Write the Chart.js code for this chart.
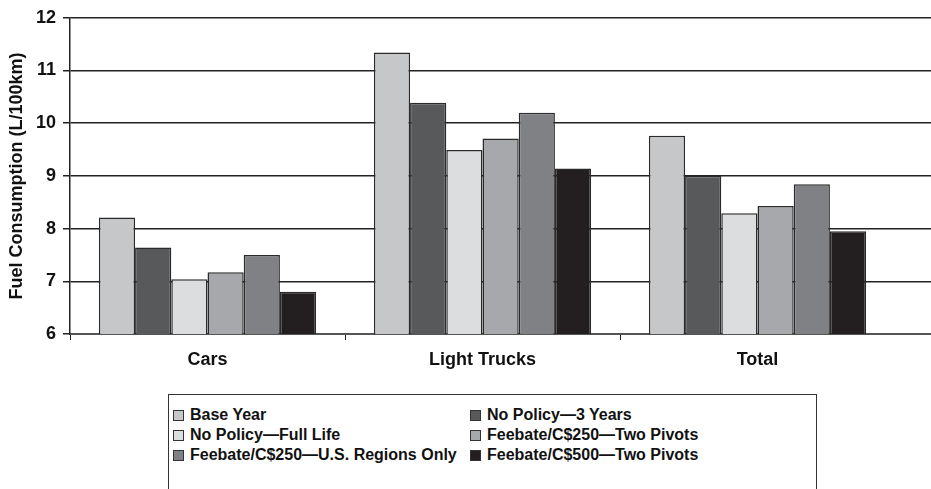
<!DOCTYPE html>
<html>
<head>
<meta charset="utf-8">
<script src="https://cdn.jsdelivr.net/npm/chart.js@4/dist/chart.umd.min.js"></script>
<style>
  html, body { margin: 0; padding: 0; background: #fff; }
  body { width: 931px; height: 489px; overflow: hidden; position: relative; font-family: "Liberation Sans", Arial, sans-serif; }
  #wrap { position: absolute; left: 0; top: 0; width: 1175px; height: 380px; }
  #legend {
    position: absolute; left: 168px; top: 394px; width: 649px; height: 120px;
    border: 1.5px solid #333; box-sizing: border-box;
    padding: 10px 0 0 4px;
    display: grid; grid-template-columns: 297px 1fr; grid-auto-rows: 20px;
    font-weight: bold; font-size: 16px; color: #111;
  }
  #legend .item { display: flex; align-items: center; white-space: nowrap; }
  #legend .sw { width: 9px; height: 9px; border: 1px solid #333; margin-right: 6px; }
</style>
</head>
<body>
<div id="wrap"><canvas id="chart"></canvas></div>
<div id="legend"></div>
<script>
// valores (L/100km)
const categories = ['Cars', 'Light Trucks', 'Total'];
const seriesNames = [
  'Base Year',
  'No Policy\u20143 Years',
  'No Policy\u2014Full Life',
  'Feebate/C$250\u2014Two Pivots',
  'Feebate/C$250\u2014U.S. Regions Only',
  'Feebate/C$500\u2014Two Pivots'
];
const baseYear = [8.21, 11.34, 9.76];
const noPolicy3 = [7.64, 10.39, 9.00];
const noPolicyFull = [7.04, 9.49, 8.29];
const feebate250Two = [7.17, 9.71, 8.43];
const feebate250US = [7.50, 10.20, 8.84];
const feebate500Two = [6.80, 9.14, 7.95];
const yTicks = [6, 7, 8, 9, 10, 11, 12];

const seriesValues = [baseYear, noPolicy3, noPolicyFull, feebate250Two, feebate250US, feebate500Two];
const colors = ['#c6c7c9', '#58595b', '#dcdddf', '#a7a8ab', '#808184', '#231f20'];

document.addEventListener('DOMContentLoaded', function () {
  const boldFont = { family: '"Liberation Sans", Arial, sans-serif', weight: 'bold', size: 18 };

  const datasets = seriesNames.map((name, i) => ({
    label: name,
    data: seriesValues[i],
    backgroundColor: colors[i],
    borderColor: '#2a2a2a',
    borderWidth: 1.5
  }));

  const chart = new Chart(document.getElementById('chart'), {
    type: 'bar',
    data: {
      // hueco vacío al final: el área del gráfico sigue más allá del borde derecho
      labels: [...categories, ''],
      datasets: datasets
    },
    options: {
      responsive: true,
      maintainAspectRatio: false,
      animation: false,
      layout: { padding: { left: 0, top: 15, right: 5, bottom: 0 } },
      datasets: { bar: { categoryPercentage: 0.79, barPercentage: 1 } },
      plugins: { legend: { display: false }, tooltip: { enabled: false } },
      scales: {
        x: {
          grid: {
            drawOnChartArea: false,
            tickLength: 6,
            color: '#222',
            tickColor: ctx => ctx.index === 3 ? 'rgba(0,0,0,0)' : '#222'
          },
          border: { color: '#555', width: 2 },
          ticks: { color: '#111', font: boldFont, padding: 9 },
          afterFit: scale => { scale.height = 46; }
        },
        y: {
          min: 6,
          max: 12,
          afterBuildTicks: scale => { scale.ticks = yTicks.map(v => ({ value: v })); },
          grid: { color: '#222', lineWidth: 1.5, tickLength: 7 },
          border: { color: '#222', width: 1.5 },
          ticks: { color: '#111', font: boldFont, padding: 7 },
          title: {
            display: true,
            text: 'Fuel Consumption (L/100km)',
            color: '#111',
            font: boldFont,
            padding: { top: 6, bottom: 0 }
          },
          afterFit: scale => { scale.width = 70; }
        }
      }
    }
  });

  // leyenda en HTML: dos columnas dentro de un recuadro
  const legend = document.getElementById('legend');
  chart.data.datasets.forEach(ds => {
    const item = document.createElement('div');
    item.className = 'item';
    const sw = document.createElement('span');
    sw.className = 'sw';
    sw.style.background = ds.backgroundColor;
    const txt = document.createElement('span');
    txt.textContent = ds.label;
    item.appendChild(sw);
    item.appendChild(txt);
    legend.appendChild(item);
  });
});
</script>
</body>
</html>
